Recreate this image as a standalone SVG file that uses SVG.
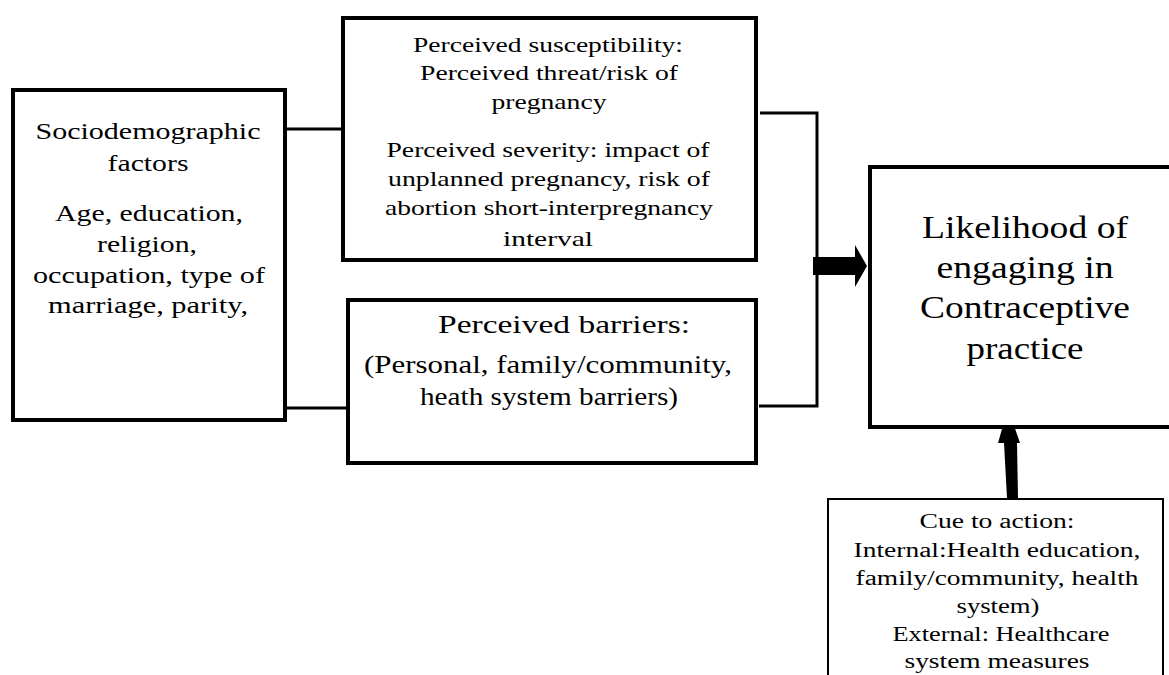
<svg xmlns="http://www.w3.org/2000/svg" width="1169" height="675" viewBox="0 0 1169 675">
<style>
.box{fill:#fff;stroke:#000;stroke-width:4}
.thin{fill:#fff;stroke:#000;stroke-width:2}
.con{fill:none;stroke:#000;stroke-width:3}
text{fill:#000;text-anchor:middle}
.f24{font-size:22.5px}.f23{font-size:21.5px}.f27{font-size:25px}.f33{font-size:31px}.f21{font-size:20px}
</style>
<rect width="1169" height="675" fill="#fff"/>
<g id="connectors">
<line class="con" x1="287" y1="129" x2="343" y2="129"/>
<line class="con" x1="287" y1="408" x2="348" y2="408"/>
<polyline class="con" points="760,113 817,113 817,406 759,406"/>
<polygon points="813,257 855,257 855,245 867,266 855,287 855,275 813,275" fill="#000"/>
<polygon points="1007,498 1018,498 1017,443 1020,443 1008,408 998,443 1004,443" fill="#000"/>
</g>
<g font-family="'Liberation Serif', 'Times New Roman', Times, serif">
<g id="sociodemographic">
<rect class="box" x="13" y="90" width="272" height="330"/>
<text class="f24" x="148" y="139" textLength="225" lengthAdjust="spacingAndGlyphs">Sociodemographic</text>
<text class="f24" x="148" y="171" textLength="81" lengthAdjust="spacingAndGlyphs">factors</text>
<text class="f24" x="149" y="221" textLength="188" lengthAdjust="spacingAndGlyphs">Age, education,</text>
<text class="f24" x="147" y="252" textLength="100" lengthAdjust="spacingAndGlyphs">religion,</text>
<text class="f24" x="149" y="283" textLength="232" lengthAdjust="spacingAndGlyphs">occupation, type of</text>
<text class="f24" x="148" y="313" textLength="200" lengthAdjust="spacingAndGlyphs">marriage, parity,</text>
</g>
<g id="susceptibility">
<rect class="box" x="343" y="18" width="413" height="242"/>
<text class="f23" x="548" y="52" textLength="270" lengthAdjust="spacingAndGlyphs">Perceived susceptibility:</text>
<text class="f23" x="549" y="80" textLength="258" lengthAdjust="spacingAndGlyphs">Perceived threat/risk of</text>
<text class="f23" x="549" y="109" textLength="115" lengthAdjust="spacingAndGlyphs">pregnancy</text>
<text class="f23" x="548" y="157" textLength="323" lengthAdjust="spacingAndGlyphs">Perceived severity: impact of</text>
<text class="f23" x="549" y="186" textLength="322" lengthAdjust="spacingAndGlyphs">unplanned pregnancy, risk of</text>
<text class="f23" x="549" y="215" textLength="328" lengthAdjust="spacingAndGlyphs">abortion short-interpregnancy</text>
<text class="f23" x="548" y="246" textLength="90" lengthAdjust="spacingAndGlyphs">interval</text>
</g>
<g id="barriers">
<rect class="box" x="348" y="300" width="408" height="163"/>
<text class="f27" x="564" y="333" textLength="252" lengthAdjust="spacingAndGlyphs">Perceived barriers:</text>
<text class="f27" x="548" y="373" textLength="368" lengthAdjust="spacingAndGlyphs">(Personal, family/community,</text>
<text class="f27" x="549" y="405" textLength="258" lengthAdjust="spacingAndGlyphs">heath system barriers)</text>
</g>
<g id="likelihood">
<rect class="box" x="870" y="167" width="320" height="260"/>
<text class="f33" x="1025" y="238" textLength="206" lengthAdjust="spacingAndGlyphs">Likelihood of</text>
<text class="f33" x="1025" y="278" textLength="177" lengthAdjust="spacingAndGlyphs">engaging in</text>
<text class="f33" x="1025" y="318" textLength="210" lengthAdjust="spacingAndGlyphs">Contraceptive</text>
<text class="f33" x="1025" y="359" textLength="117" lengthAdjust="spacingAndGlyphs">practice</text>
</g>
<g id="cue">
<rect class="thin" x="828" y="499" width="335" height="200"/>
<text class="f21" x="997" y="528" textLength="155" lengthAdjust="spacingAndGlyphs">Cue to action:</text>
<text class="f21" x="997" y="557" textLength="287" lengthAdjust="spacingAndGlyphs">Internal:Health education,</text>
<text class="f21" x="997" y="585" textLength="283" lengthAdjust="spacingAndGlyphs">family/community, health</text>
<text class="f21" x="998" y="613" textLength="83" lengthAdjust="spacingAndGlyphs">system)</text>
<text class="f21" x="1001" y="641" textLength="217" lengthAdjust="spacingAndGlyphs">External: Healthcare</text>
<text class="f21" x="997" y="668" textLength="185" lengthAdjust="spacingAndGlyphs">system measures</text>
</g>
</g>
</svg>
